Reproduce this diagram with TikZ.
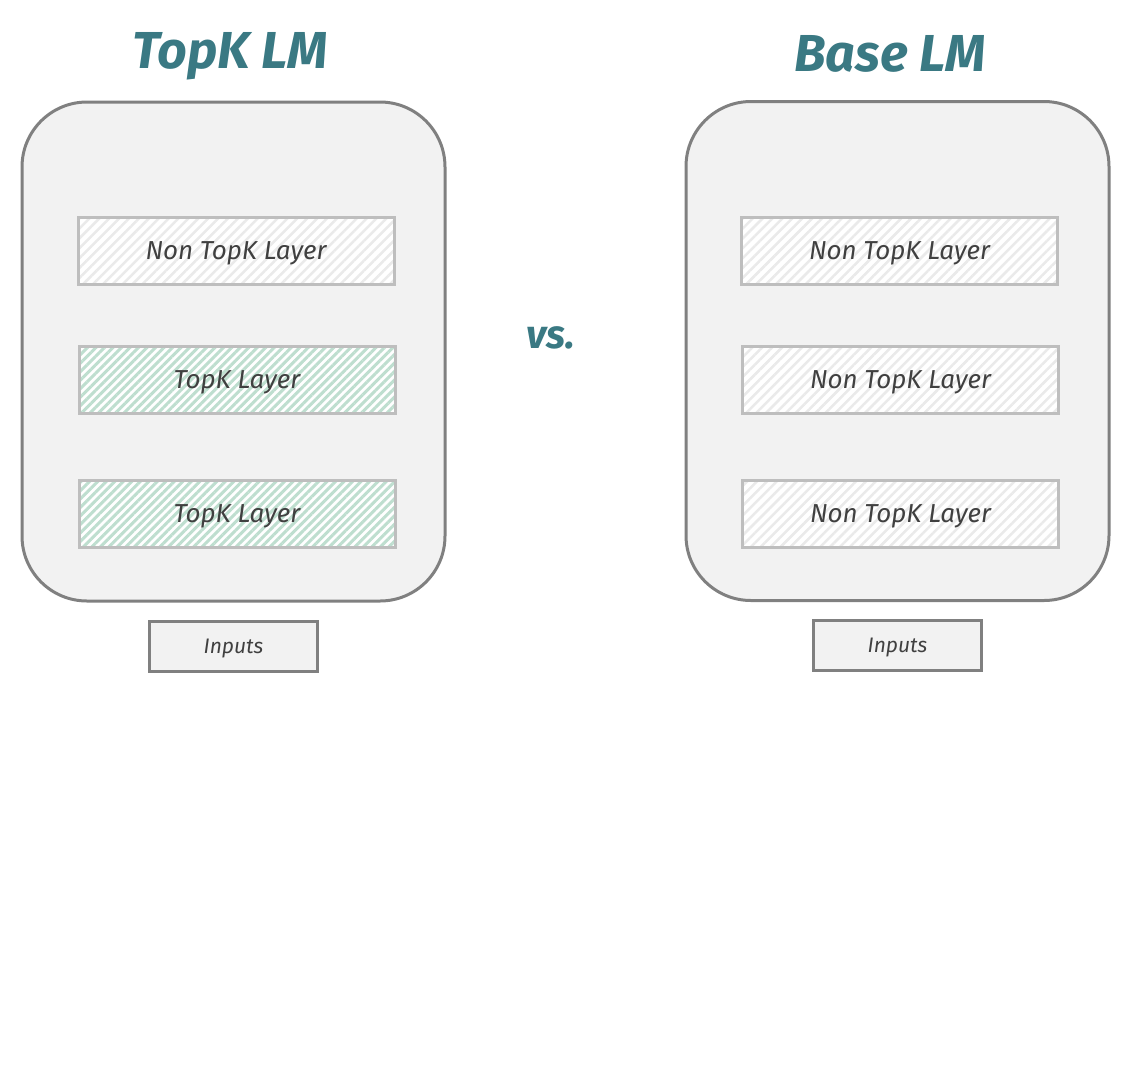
\documentclass[tikz,border=0pt]{standalone}
\usepackage{fontspec}
\setmainfont{Fira Sans}
\usepackage{tikz}
\usetikzlibrary{positioning}
\usetikzlibrary{patterns.meta}
\definecolor{titleteal}{RGB}{58,121,131}
\definecolor{framegray}{RGB}{128,128,128}
\definecolor{layergray}{RGB}{190,190,190}
\definecolor{panelgray}{RGB}{242,242,242}
\definecolor{inkgray}{RGB}{64,64,64}
\definecolor{hatchgray}{RGB}{234,234,234}
\definecolor{hatchgreen}{RGB}{190,222,207}
\tikzset{title/.style={text=titleteal,font=\bfseries\itshape\fontsize{52}{60}\selectfont}}
\tikzset{model/.style={draw=framegray,fill=panelgray,line width=3pt,rounded corners=65pt,
  minimum width=423pt,minimum height=499pt,inner sep=0pt}}
\tikzset{layer/.style={draw=layergray,line width=3pt,minimum width=316pt,minimum height=67pt,
  inner sep=0pt,text depth=0pt,text=inkgray,font=\itshape\fontsize{26}{30}\selectfont,preaction={fill=white}}}
\tikzset{plainlayer/.style={layer,pattern={Lines[angle=45,distance=7pt,line width=2.5pt]},pattern color=hatchgray}}
\tikzset{topklayer/.style={layer,pattern={Lines[angle=45,distance=6pt,line width=3pt]},pattern color=hatchgreen}}
\tikzset{inputbox/.style={draw=framegray,fill=panelgray,line width=3pt,minimum width=168pt,
  minimum height=50pt,inner sep=0pt,text depth=0pt,text=inkgray,font=\itshape\fontsize{21}{24}\selectfont}}

\begin{document}
\begin{tikzpicture}[
x = 1pt, y = -1pt, % pixel grid, y pointing down
node distance = 17pt
]
\useasboundingbox[fill=white] (0,0) rectangle (1133,1080);

% left model
\node[title] (ttopk) at (230,56) {TopK LM};
\node[model] (mtopk) at (233.5,351.5) {};
\node[plainlayer] (ltopka) at (236,251) {Non TopK Layer};
\node[topklayer] (ltopkb) at (237,380) {TopK Layer};
\node[topklayer] (ltopkc) at (237,514) {TopK Layer};
\node[inputbox] (itopk) [below=of mtopk] {Inputs};

\node[title,font=\bfseries\itshape\fontsize{40}{44}\selectfont] (vs) at (551,338) {vs.};

% right model
\node[title] (tbase) at (890,54) {Base LM};
\node[model] (mbase) at (897.5,351) {};
\node[plainlayer] (lbasea) at (899.5,251) {Non TopK Layer};
\node[plainlayer] (lbaseb) at (900.5,379.5) {Non TopK Layer};
\node[plainlayer] (lbasec) at (900.5,514) {Non TopK Layer};
\node[inputbox] (ibase) [below=of mbase] {Inputs};
\end{tikzpicture}
\end{document}
